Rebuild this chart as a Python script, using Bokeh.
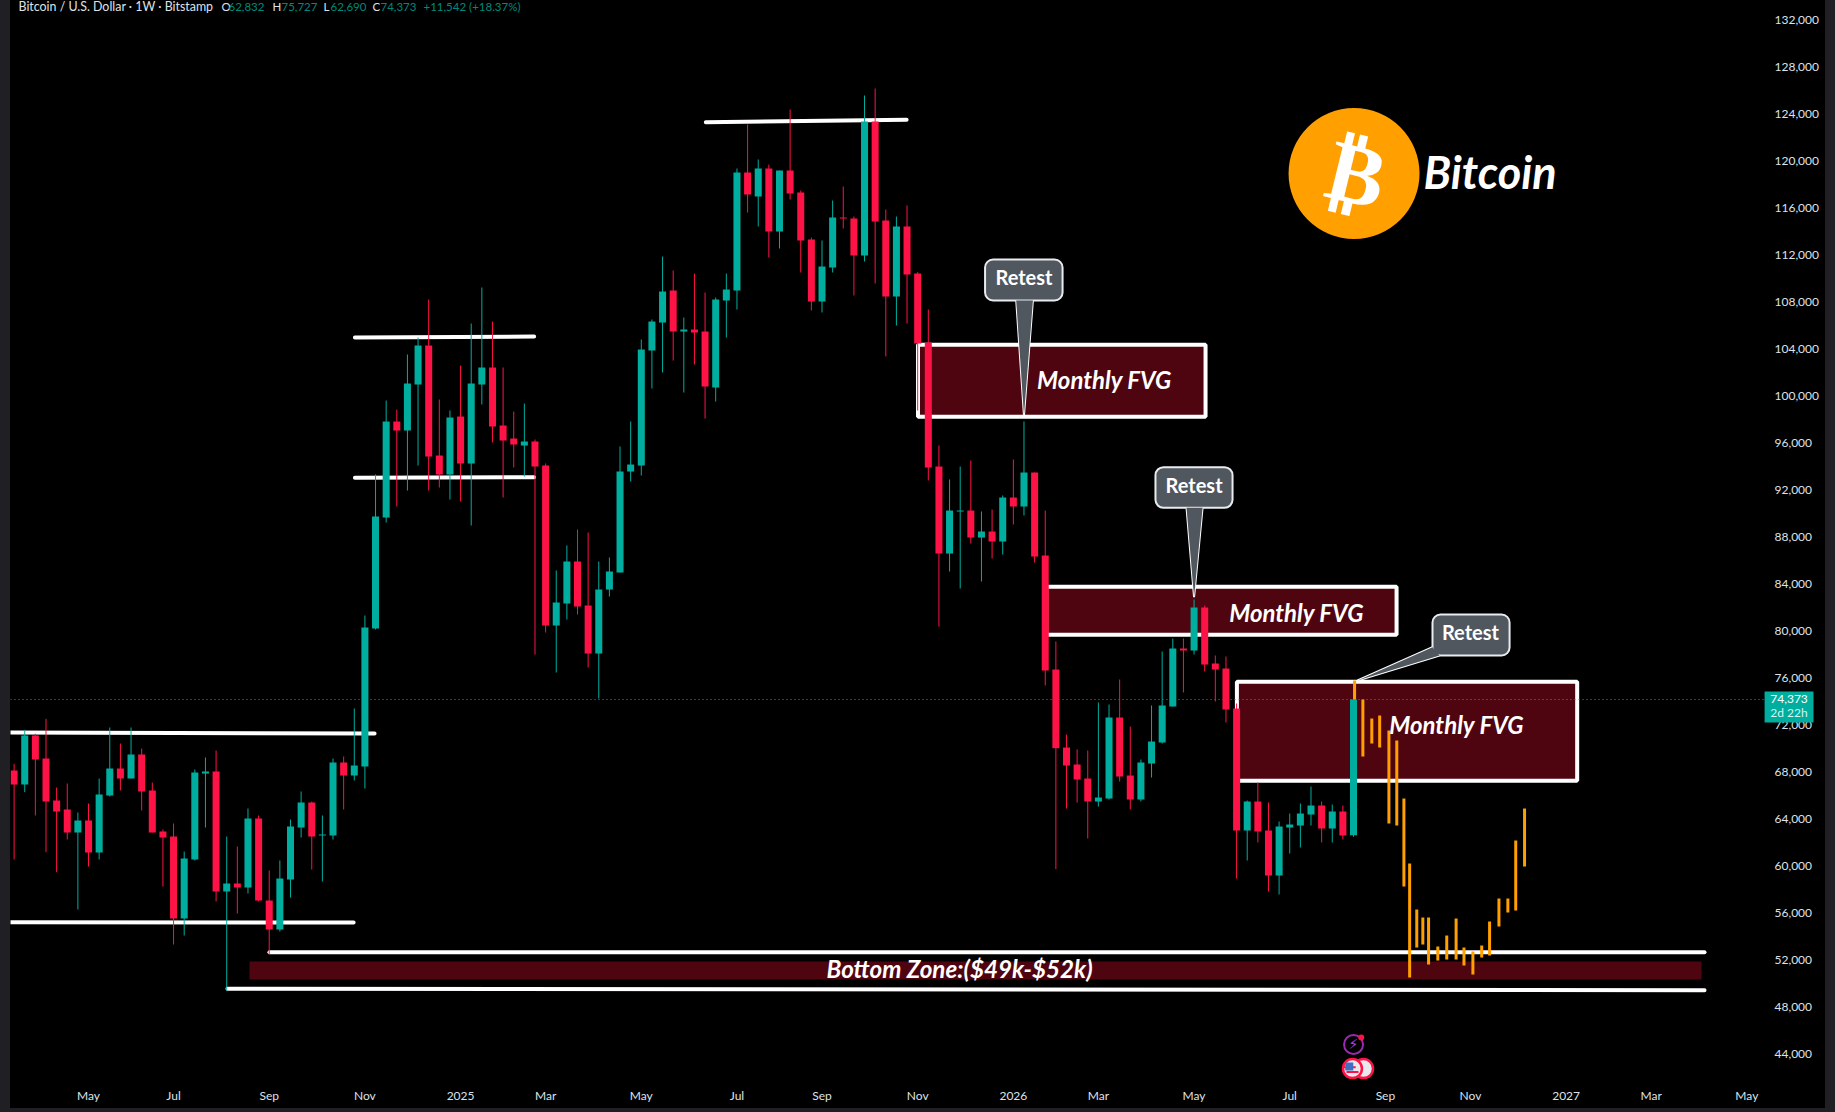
from bokeh.plotting import figure
from bokeh.models import (Range1d, FixedTicker, NumeralTickFormatter, Label)
from bokeh.core.properties import value
from bokeh.embed import file_html
from bokeh.resources import INLINE

# ---------- weekly candles (index 0 = 18 Mar 2024) ----------
opens = [68332,67140,71311,69353,65779,65012,63055,64076,61353,66204,
         68502,67651,69693,66630,63140,62714,55736,60757,68077,68246,
         58034,58714,58374,64247,57267,54800,59055,63480,65608,62800,
         62800,69013,67906,68672,80417,89862,98033,97267,101182,104501,
         95139,93522,98458,94458,101182,102629,97692,96586,95990,96332,
         94289,80672,82544,86119,82374,78289,83736,85182,93777,94288,
         104075,106458,109182,105692,105863,105692,100927,108331,109182,119225,
         117182,119565,114203,119395,117523,113522,108246,111139,115395,115310,
         112161,123565,115140,108671,114629,110629,104757,94203,86799,90373,
         90458,88160,88671,87820,91565,90799,93693,86628,76927,70289,
         68842,67650,65693,65948,72842,67906,65863,68927,70714,73778,
         78715,78545,82204,77438,77013,73608,63225,65693,63225,59395,
         63480,63650,64587,65353,63395,64842,62832]
closes = [67140,71311,69268,65693,64843,63055,64076,61353,66289,68502,
          67651,69693,66545,63055,62629,55736,60842,68161,68246,58034,
          58714,58374,64247,57267,54800,59140,63566,65608,62714,62885,
          69013,67906,68757,80502,89949,98033,97267,101267,104501,95054,
          93522,98373,94458,101267,102629,97607,96415,96075,96330,94204,
          80672,82629,86119,82289,78289,83736,85268,93779,94373,104160,
          106544,109097,105692,105863,105607,101012,108416,109267,119225,117352,
          119565,114203,119395,117438,113437,108246,111224,115395,115310,112161,
          123565,115054,108671,114629,110544,104672,94118,86799,90458,90458,
          88160,88671,87820,91565,90799,93693,86543,76841,70232,68757,
          67565,65693,66033,72842,67821,65863,69012,70799,73864,78715,
          78545,82204,77353,76927,73523,63225,65693,63140,59395,63565,
          63735,64671,65353,63395,64842,62799,74373]
highs = [68899,71793,71452,72729,66885,67225,64757,65523,67651,71992,
         70630,71992,70204,67310,63310,63821,61438,68417,69438,70034,
         62714,61863,65098,64502,59821,60672,64161,66545,65693,64502,
         69353,69523,73608,81523,93524,99820,99054,103735,105182,108416,
         99905,98969,102799,106373,109437,106544,102629,98884,99565,96501,
         94459,85353,87481,88842,88587,86119,86459,95906,98033,105012,
         106714,112076,110884,106884,110629,109012,108586,110629,119565,123310,
         120331,119906,119395,124587,117693,113693,113437,116842,118033,115480,
         125778,126374,116076,115480,116416,110743,107565,95990,93097,94203,
         94714,90373,90543,91735,94799,98033,93693,90458,79310,71395,
         70118,70033,74119,73948,76076,72076,69267,73864,78459,79566,
         79566,82885,82374,78119,78034,74034,65778,67310,65608,63991,
         64671,65523,66969,65693,65438,65353,75727]
lows = [60757,66488,64502,61381,59679,62459,56502,60161,60757,66119,
        66630,67651,64927,63055,58459,53523,54289,60672,63480,57182,
        49607,56161,57863,57182,52671,54629,57523,62629,59906,58885,
        62459,65012,67480,66799,80332,89437,90799,92160,94288,92160,
        92415,91393,91224,89181,99480,96246,91564,94118,93352,78203,
        80076,76672,81182,81608,77097,74458,83140,85182,92926,93436,
        100841,102203,103224,100500,102884,98287,99735,105182,107565,115820,
        114629,111990,112757,116927,110714,107480,107310,110714,114459,108756,
        111650,109778,103564,106203,106373,98969,93012,80586,85267,83820,
        87650,84416,86373,86713,89267,90033,86032,75564,59934,65097,
        65608,62544,65267,65863,67395,65012,65693,67735,70629,73778,
        74970,78204,76757,74204,72416,59139,60671,62204,58033,57778,
        61267,61778,63650,62204,62204,62459,62690]
weeks = list(range(len(opens)))

# ---------- orange projection bars ----------
proj_x = [126.1,126.88,127.72,128.46,129.33,130.07,130.74,131.28,131.95,132.52,133.06,
          133.93,134.77,135.65,136.39,137.23,138.06,138.80,139.68,140.52,141.26,142.09]
proj_high = [75991,74374,72757,73012,71736,70885,65948,60416,56501,55820,55820,
             53352,54288,55735,53267,52926,53437,55480,57437,57437,62374,65097]
proj_low = [74374,69523,70629,70289,63821,63650,58459,50714,53267,53522,51820,
            52160,52245,52245,51735,50969,52416,52586,55054,56246,56416,60161]

# ---------- zones ----------
fvg_left = [85.03,97.1,115.03]
fvg_right = [112.08,130.05,147.04]
fvg_top = [104560,83960,75880]
fvg_bottom = [98430,79880,67450]
fvg_text_x = [102.57,120.64,135.7]
fvg_text_y = [101620,81790,72260]
fvg_text = ["Monthly FVG","Monthly FVG","Monthly FVG"]
band = (22.14,158.74,52075,50545)

level_x0 = [-0.34,-0.34,24.02,20.07,32.06,32.06,65.07]
level_x1 = [33.91,31.94,159.02,159.02,48.92,48.92,83.96]
level_y0 = [71566,55421,52868,49753,105183,93243,123506]
level_y1 = [71481,55395,52868,49634,105268,93294,123711]

# ---------- callouts ----------
call_left = [91.34,107.37,133.43]
call_right = [98.63,114.62,140.68]
call_top = [111821,94145,81609]
call_bottom = [108332,90690,78119]
call_text_x = [95.0,111.0,137.0]
call_text_y = [110300,92650,80080]
tails_x = [[94.27,95.0,95.84],[110.29,111.0,111.8],[133.43,126.38,134.09]]
tails_y = [[108332,98545,108332],[90690,83081,90690],[78826,75992,78119]]

# ---------- axes ----------
price_ticks = list(range(44000,132001,4000))
time_ticks = [7,15,24,33,42,50,59,68,76,85,94,102,111,120,129,137,146,154,163]
time_labels = ["May","Jul","Sep","Nov","2025","Mar","May","Jul","Sep","Nov","2026","Mar","May","Jul","Sep","Nov","2027","Mar","May"]
last_price = 74373

TEAL="#00ae9f"; RED="#ff1246"; ORANGE="#ff9f00"; MAROON="#4f0510"; STRIP="#202024"; GREY="#50575e"
TXT="#dfe2e8"; HTEAL="#00897b"
BOLD=value("Lato")

p = figure(width=1815,height=1108,output_backend="svg",toolbar_location=None,
           x_range=Range1d(-0.339,170.4),y_range=Range1d(41949,133864),
           y_axis_location="right",min_border_left=0,min_border_right=0,
           min_border_top=0,min_border_bottom=28,
           background_fill_color="#000000",border_fill_color="#000000",outline_line_color=None)
p.styles={"position":"absolute","left":"10px","top":"0px","background-color":"#000000","box-shadow":f"0 0 0 10px {STRIP}"}
p.grid.visible=False
p.extra_y_ranges={"ticks":Range1d(41949-190,133864-190)}
for ax in (p.xaxis[0],p.yaxis[0]):
    ax.axis_line_color=None; ax.major_tick_line_color=None; ax.minor_tick_line_color=None
    ax.major_label_text_color=TXT; ax.major_label_text_font="Lato"; ax.major_label_text_font_size="12px"
p.yaxis[0].y_range_name="ticks"
p.yaxis[0].ticker=FixedTicker(ticks=price_ticks)
p.yaxis[0].formatter=NumeralTickFormatter(format="0,0")
p.yaxis[0].major_label_standoff=-57
p.xaxis[0].ticker=FixedTicker(ticks=time_ticks)
p.xaxis[0].major_label_overrides=dict(zip(time_ticks,time_labels))
p.xaxis[0].major_label_standoff=1

# zones
p.quad(left=fvg_left,right=fvg_right,top=fvg_top,bottom=fvg_bottom,fill_color=MAROON,line_color="white",line_width=4)
p.quad(left=[band[0]],right=[band[1]],top=[band[2]],bottom=[band[3]],fill_color=MAROON,line_color=None)
p.segment(level_x0,level_y0,level_x1,level_y1,line_color="white",line_width=4,line_cap="round")

# last-price line
p.segment([-0.339],[last_price],[164.67],[last_price],line_color=TEAL,line_width=1,line_dash="1 3")

# candles
up=[c>=o for o,c in zip(opens,closes)]
colors=[TEAL if u else RED for u in up]
p.segment(weeks,highs,weeks,lows,line_color=colors,line_width=1)
p.vbar(x=weeks,top=[max(o,c) for o,c in zip(opens,closes)],bottom=[min(o,c) for o,c in zip(opens,closes)],
       width=0.66,fill_color=colors,line_color=None)

# projection
p.segment(proj_x,proj_high,proj_x,proj_low,line_color=ORANGE,line_width=3,line_cap="butt")

# callouts
p.patches(tails_x,tails_y,fill_color=GREY,line_color="white",line_width=2)
p.quad(left=call_left,right=call_right,top=call_top,bottom=call_bottom,fill_color=GREY,line_color="#e8ecf0",line_width=2,border_radius=8)
p.patches(tails_x,tails_y,fill_color=GREY,line_color=None)
p.text(call_text_x,call_text_y,text=["Retest"]*3,text_color="white",text_font=value("Lato"),text_font_style="bold",
       text_font_size="20px",text_align="center",text_baseline="middle")

# zone text
p.text(fvg_text_x,fvg_text_y,text=fvg_text,text_color="white",text_font=BOLD,text_font_style="bold italic",
       text_font_size="24px",text_align="center",text_baseline="middle")
p.text([88.94],[51480],text=["Bottom Zone:($49k-$52k)"],text_color="white",text_font=BOLD,text_font_style="bold italic",
       text_font_size="24.2px",text_align="center",text_baseline="middle")

# logo
p.scatter([126.05],[119141],size=131,fill_color=ORANGE,line_color=None)
p.text([126.3],[119141],text=["\u20bf"],text_color="white",text_font=value("DejaVu Sans"),text_font_style="bold",
       text_font_size="86px",text_align="center",text_baseline="middle",angle=-0.24)
p.text([138.84],[119226],text=["Bitcoin"],text_color="white",text_font=BOLD,text_font_style="bold italic",
       text_font_size="45px",text_align="center",text_baseline="middle")

# event icons
p.scatter([126.0],[45013],size=19,fill_color=None,line_color="#9c27b0",line_width=2)
p.text([126.0],[45013],text=["\u26a1"],text_color="#b040e0",text_font=value("DejaVu Sans"),text_font_size="14px",text_align="center",text_baseline="middle")
p.scatter([126.73],[45609],size=6,fill_color=RED,line_color=None)
p.scatter([126.94,125.9],[42960,42960],size=19,fill_color="#e8e8ee",line_color=RED,line_width=2.5)
p.scatter([125.64,125.9],[43070,42670],marker="dash",size=12,line_color=RED,line_width=2)
p.scatter([125.6],[43150],marker="square",size=8,fill_color="#3f6fc0",line_color=None)

# price tag
p.quad(left=[164.67],right=[169.27],top=[75056],bottom=[72417],fill_color=TEAL,line_color=None,level="annotation")
p.text([166.97],[74410],text=["74,373"],text_color="white",text_font=value("Lato"),text_font_size="12px",
       text_align="center",text_baseline="middle",level="annotation")
p.text([166.97],[73240],text=["2d 22h"],text_color="#d5f5f0",text_font=value("Lato"),text_font_size="12px",
       text_align="center",text_baseline="middle",level="annotation")

# header
header=[(8,"Bitcoin / U.S. Dollar \u00b7 1W \u00b7 Bitstamp",TXT,"12.4px"),(211,"O",TXT,"11.5px"),(218,"62,832",HTEAL,"11.5px"),(262,"H",TXT,"11.5px"),(271,"75,727",HTEAL,"11.5px"),
        (313,"L",TXT,"11.5px"),(320,"62,690",HTEAL,"11.5px"),(362,"C",TXT,"11.5px"),(370,"74,373",HTEAL,"11.5px"),(413,"+11,542 (+18.37%)",HTEAL,"11.5px")]
for hx,ht,hc,hs in header:
    p.add_layout(Label(x=hx,y=6,x_units="canvas",y_units="canvas",text=ht,text_color=hc,text_font="Lato",
                       text_font_size=hs,text_baseline="middle"))

open("out.html","w").write(file_html(p,INLINE))
